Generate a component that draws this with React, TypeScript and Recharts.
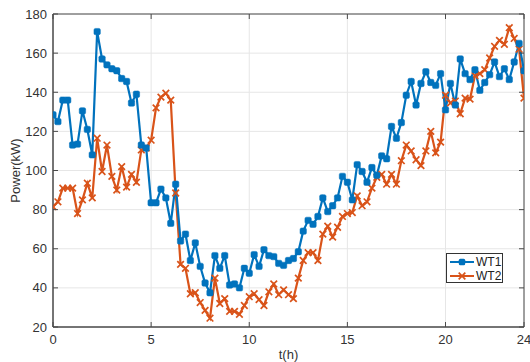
import React from 'react';
import { LineChart, Line, XAxis, YAxis, CartesianGrid, ReferenceArea } from 'recharts';

const STEP_H = 0.25;
const WT1 = [
  128.5, 125, 136, 136, 113, 113.5, 130.5, 121, 108, 171,
  157, 154, 152, 151, 147, 145.5, 134.5, 139, 113, 111.5,
  83.5, 83.5, 90.5, 86, 73, 93, 64, 67.5, 54, 63,
  51, 42.5, 37.5, 56.5, 50, 56.5, 41.5, 42, 40, 50,
  47.5, 57, 51, 59.5, 56.5, 56, 52.5, 51.5, 54, 55,
  58.5, 69, 74.5, 72.5, 76.5, 86, 79, 82, 86, 97,
  94, 85, 103, 99.5, 94, 101.5, 97.5, 107.5, 106, 122.5,
  116.5, 124.5, 138.5, 145.5, 133.5, 144.5, 150.5, 145, 143.5, 149.5,
  131, 144.5, 133.5, 157, 149.5, 146.5, 151.5, 141, 145, 149,
  155.5, 148, 152, 146.5, 155.5, 165, 151,
];
const WT2 = [
  81.5, 84, 91, 91, 91, 78, 85, 93.5, 86, 116.5,
  99.5, 113, 97, 90, 102, 91.5, 98, 94, 110.5, 111.5,
  115.5, 132, 137.5, 139.5, 136, 88.5, 52, 50, 37, 37.5,
  32.5, 28.5, 24.5, 45, 32, 34.5, 28, 28, 26.5, 31,
  35.5, 37, 34, 31, 38, 42, 36.5, 39, 36.5, 34.5,
  45, 54, 58, 58, 54, 67.5, 71.5, 66, 71, 76.5,
  78, 78.5, 87, 82, 84, 91, 96.5, 98, 93, 98,
  93, 105, 113, 110, 105.5, 102.5, 110, 120, 109, 114.5,
  138.5, 134.5, 135.5, 129, 137, 136.5, 148.5, 149.5, 151.5, 157.5,
  163.5, 166.5, 164.5, 173, 167.5, 162, 137,
];
const X_TICKS = [0, 5, 10, 15, 20, 24];
const Y_TICKS = [20, 40, 60, 80, 100, 120, 140, 160, 180];
const SERIES_NAMES = ['WT1', 'WT2'];

const data = WT1.map((v, i) => ({ t: i * STEP_H, WT1: v, WT2: WT2[i] }));

const W = 530;
const H = 362;
const PL = 53;
const PR = 524;
const PT = 14;
const PB = 327;
const BLUE = '#0072BD';
const ORANGE = '#D95319';
const AXIS = '#4a4a4a';
const FONT = '"Liberation Sans", Arial, sans-serif';

const XTick = (props: any) => {
  const { x, y, payload } = props;
  return (
    <g>
      <line x1={x} x2={x} y1={PB} y2={PB - 5} stroke={AXIS} strokeWidth={1} />
      <line x1={x} x2={x} y1={PT} y2={PT + 5} stroke={AXIS} strokeWidth={1} />
      <text x={x} y={y + 10.5} textAnchor="middle" fontSize={13} fill="#333" fontFamily={FONT}>
        {payload.value}
      </text>
    </g>
  );
};

const YTick = (props: any) => {
  const { x, y, payload } = props;
  return (
    <g>
      <line x1={PL} x2={PL + 5} y1={y} y2={y} stroke={AXIS} strokeWidth={1} />
      <line x1={PR} x2={PR - 5} y1={y} y2={y} stroke={AXIS} strokeWidth={1} />
      <text x={x} y={y + 4.5} textAnchor="end" fontSize={13} fill="#333" fontFamily={FONT}>
        {payload.value}
      </text>
    </g>
  );
};

const SquareDot = (props: any) => {
  const { cx, cy, index } = props;
  if (cx == null || cy == null) return <g key={`s${index}`} />;
  return <rect key={`s${index}`} x={cx - 3.2} y={cy - 3.2} width={6.4} height={6.4} rx={1.5} fill={BLUE} stroke={BLUE} strokeWidth={0.5} />;
};

const CrossDot = (props: any) => {
  const { cx, cy, index } = props;
  if (cx == null || cy == null) return <g key={`c${index}`} />;
  const r = 3.3;
  return (
    <g key={`c${index}`}>
      <line x1={cx - r} y1={cy - r} x2={cx + r} y2={cy + r} stroke={ORANGE} strokeWidth={1.7} />
      <line x1={cx - r} y1={cy + r} x2={cx + r} y2={cy - r} stroke={ORANGE} strokeWidth={1.7} />
    </g>
  );
};

const YLabel = () => (
  <text
    x={15}
    y={(PT + PB) / 2}
    transform={`rotate(-90 15 ${(PT + PB) / 2})`}
    textAnchor="middle"
    dominantBaseline="central"
    fontSize={13}
    fill="#333"
    fontFamily={FONT}
  >
    Power(kW)
  </text>
);

const XLabel = () => (
  <text x={(PL + PR) / 2} y={359} textAnchor="middle" fontSize={13} fill="#333" fontFamily={FONT}>
    t(h)
  </text>
);

const LegendBox = () => (
  <div
    style={{
      position: 'absolute',
      left: 446,
      top: 253,
      width: 57,
      height: 30,
      boxSizing: 'border-box',
      border: '1px solid #333',
      background: '#fff',
      fontFamily: FONT,
      fontSize: 12,
      color: '#222',
    }}
  >
    {SERIES_NAMES.map((name, i) => (
      <div key={name} style={{ position: 'absolute', left: 2, top: i === 0 ? 1 : 15, height: 14, display: 'flex', alignItems: 'center' }}>
        <svg width={26} height={14} style={{ display: 'block' }}>
          <line x1={1} x2={25} y1={7} y2={7} stroke={i === 0 ? BLUE : ORANGE} strokeWidth={2} />
          {i === 0 ? (
            <rect x={9.8} y={3.8} width={6.4} height={6.4} rx={1.5} fill={BLUE} />
          ) : (
            <g>
              <line x1={9.7} y1={3.7} x2={16.3} y2={10.3} stroke={ORANGE} strokeWidth={1.7} />
              <line x1={9.7} y1={10.3} x2={16.3} y2={3.7} stroke={ORANGE} strokeWidth={1.7} />
            </g>
          )}
        </svg>
        <span style={{ marginLeft: 1, lineHeight: '14px' }}>{name}</span>
      </div>
    ))}
  </div>
);

export default function App() {
  return (
    <div style={{ position: 'absolute', left: 0, top: 0, width: W, height: H, background: '#fff' }}>
      <LineChart width={W} height={H} data={data} margin={{ top: PT, right: W - PR, left: 0, bottom: 0 }}>
        <CartesianGrid stroke="#e6e6e6" strokeWidth={1} />
        <XAxis
          type="number"
          dataKey="t"
          domain={[0, 24]}
          ticks={X_TICKS}
          interval={0}
          allowDataOverflow
          height={35}
          tickSize={0}
          tickMargin={6}
          tickLine={false}
          axisLine={{ stroke: AXIS }}
          tick={<XTick />}
        />
        <YAxis
          type="number"
          domain={[20, 180]}
          ticks={Y_TICKS}
          interval={0}
          allowDataOverflow
          width={PL}
          tickSize={0}
          tickMargin={6}
          tickLine={false}
          axisLine={{ stroke: AXIS }}
          tick={<YTick />}
        />
        <ReferenceArea x1={0} x2={24} y1={20} y2={180} fill="none" fillOpacity={0} stroke={AXIS} strokeWidth={1} />
        <Line type="linear" dataKey="WT2" stroke={ORANGE} strokeWidth={2.2} dot={CrossDot} activeDot={false} isAnimationActive={false} />
        <Line type="linear" dataKey="WT1" stroke={BLUE} strokeWidth={2.2} dot={SquareDot} activeDot={false} isAnimationActive={false} />
        <YLabel />
        <XLabel />
      </LineChart>
      <LegendBox />
    </div>
  );
}
